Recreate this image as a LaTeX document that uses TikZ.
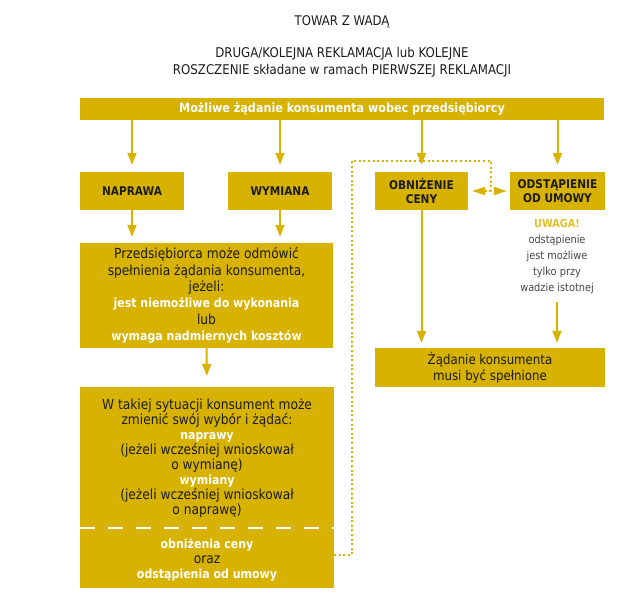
\documentclass[tikz,border=0pt]{standalone}
\usepackage{fontspec}
\setmainfont{DejaVu Sans}[FakeStretch=0.88]
\usetikzlibrary{arrows.meta}
\definecolor{gold}{RGB}{216,178,0}
\definecolor{ink}{RGB}{28,28,28}
\definecolor{note}{RGB}{70,70,70}
\definecolor{warn}{RGB}{226,190,40}
\newcommand{\wb}[1]{{\color{white}\bfseries\fontsize{12.5}{15}\selectfont #1}}
\begin{document}
\begin{tikzpicture}[x=1pt,y=-1pt,
  box/.style={fill=gold, inner sep=0pt, text=ink, align=center},
  arr/.style={draw=gold, line width=2pt, -{Triangle[width=9pt,length=12pt]}},
  dots/.style={draw=gold, line width=2pt, dash pattern=on 2pt off 2.6pt},
  capbox/.style={box, minimum height=38pt, font=\bfseries\fontsize{12}{14}\selectfont}
]
\useasboundingbox (0,0) rectangle (637,603);

% headings
\node[text=ink, font=\fontsize{13.3}{18}\selectfont] (title) at (342,22) {TOWAR Z WADĄ};
\node[text=ink, align=center, font=\fontsize{13.4}{17.5}\selectfont] (sub) at (342,62)
  {DRUGA/KOLEJNA REKLAMACJA lub KOLEJNE\\ROSZCZENIE składane w ramach PIERWSZEJ REKLAMACJI};

% top bar
\node[box, minimum width=524pt, minimum height=22pt, text=white,
      font=\bfseries\fontsize{12.7}{14}\selectfont] (bar) at (342,109)
  {Możliwe żądanie konsumenta wobec przedsiębiorcy};

% four options
\node[capbox, minimum width=104pt] (nap) at (132,191) {NAPRAWA};
\node[capbox, minimum width=104pt] (wym) at (280,191) {WYMIANA};
\node[capbox, minimum width=93pt] (obn) at (421.5,191) {OBNIŻENIE\\CENY};
\node[capbox, minimum width=95pt] (ods) at (557.5,191) {ODSTĄPIENIE\\OD UMOWY};

% box 1
\node[box, font=\fontsize{13.9}{16.3}\selectfont, minimum width=253pt, minimum height=105pt] (b1) at (206.5,295.5)
  {Przedsiębiorca może odmówić\\spełnienia żądania konsumenta,\\jeżeli:\\
   \wb{jest niemożliwe do wykonania}\\lub\\
   \wb{wymaga nadmiernych kosztów}};

% box 2
\node[box, minimum width=254pt, minimum height=201pt] (b2) at (207,487.5) {};
\node[text=ink, align=center, font=\fontsize{13.9}{15}\selectfont] (t2a) at (207,458.5)
  {W takiej sytuacji konsument może\\zmienić swój wybór i żądać:\\
   \wb{naprawy}\\(jeżeli wcześniej wnioskował\\o wymianę)\\
   \wb{wymiany}\\(jeżeli wcześniej wnioskował\\o naprawę)};
\node[text=ink, align=center, font=\fontsize{13.9}{15}\selectfont] (t2b) at (207,560.5)
  {\wb{obniżenia ceny}\\oraz\\\wb{odstąpienia od umowy}};
\coordinate (dl) at (0,528);
\draw[white, line width=2pt, dash pattern=on 15pt off 13pt] (b2.west |- dl) -- (b2.east |- dl);

% box 3
\node[box, minimum width=230pt, minimum height=39pt, font=\fontsize{13.4}{16}\selectfont] (b3) at (490,367.5)
  {Żądanie konsumenta\\musi być spełnione};

% note
\node[align=center, text=note, font=\fontsize{11.1}{16}\selectfont] (uw) at (557,257)
  {{\color{warn}\bfseries UWAGA!}\\odstąpienie\\jest możliwe\\tylko przy\\wadzie istotnej};

% arrows
\draw[arr, shorten >=7pt] (bar.south -| nap.north) -- (nap.north);
\draw[arr, shorten >=7pt] (bar.south -| wym.north) -- (wym.north);
\draw[arr, shorten >=7pt] (bar.south -| obn.north) -- (obn.north);
\draw[arr, shorten >=7pt] (bar.south -| ods.north) -- (ods.north);
\draw[arr, shorten >=6pt] (nap.south) -- (nap.south |- b1.north);
\draw[arr, shorten >=6pt] (wym.south) -- (wym.south |- b1.north);
\draw[arr, shorten >=11pt] (b1.south) -- (b2.north);
\draw[arr, shorten >=5pt] (obn.south) -- (obn.south |- b3.north);
\draw[arr, shorten <=4pt, shorten >=5pt] (uw.south) -- (uw.south |- b3.north);

% dotted link
\coordinate (dTL) at (352,161);
\coordinate (dTR) at (491,161);
\coordinate (dBL) at (352,555);
\draw[dots] (b2.east |- dBL) -- (dBL) -- (dTL) -- (dTR) -- (dTR |- obn.east);
\draw[dots, {Triangle[width=8pt,length=13pt]}-{Triangle[width=8pt,length=13pt]},
      shorten <=4pt, shorten >=3pt] (obn.east) -- (ods.west);
\end{tikzpicture}
\end{document}
